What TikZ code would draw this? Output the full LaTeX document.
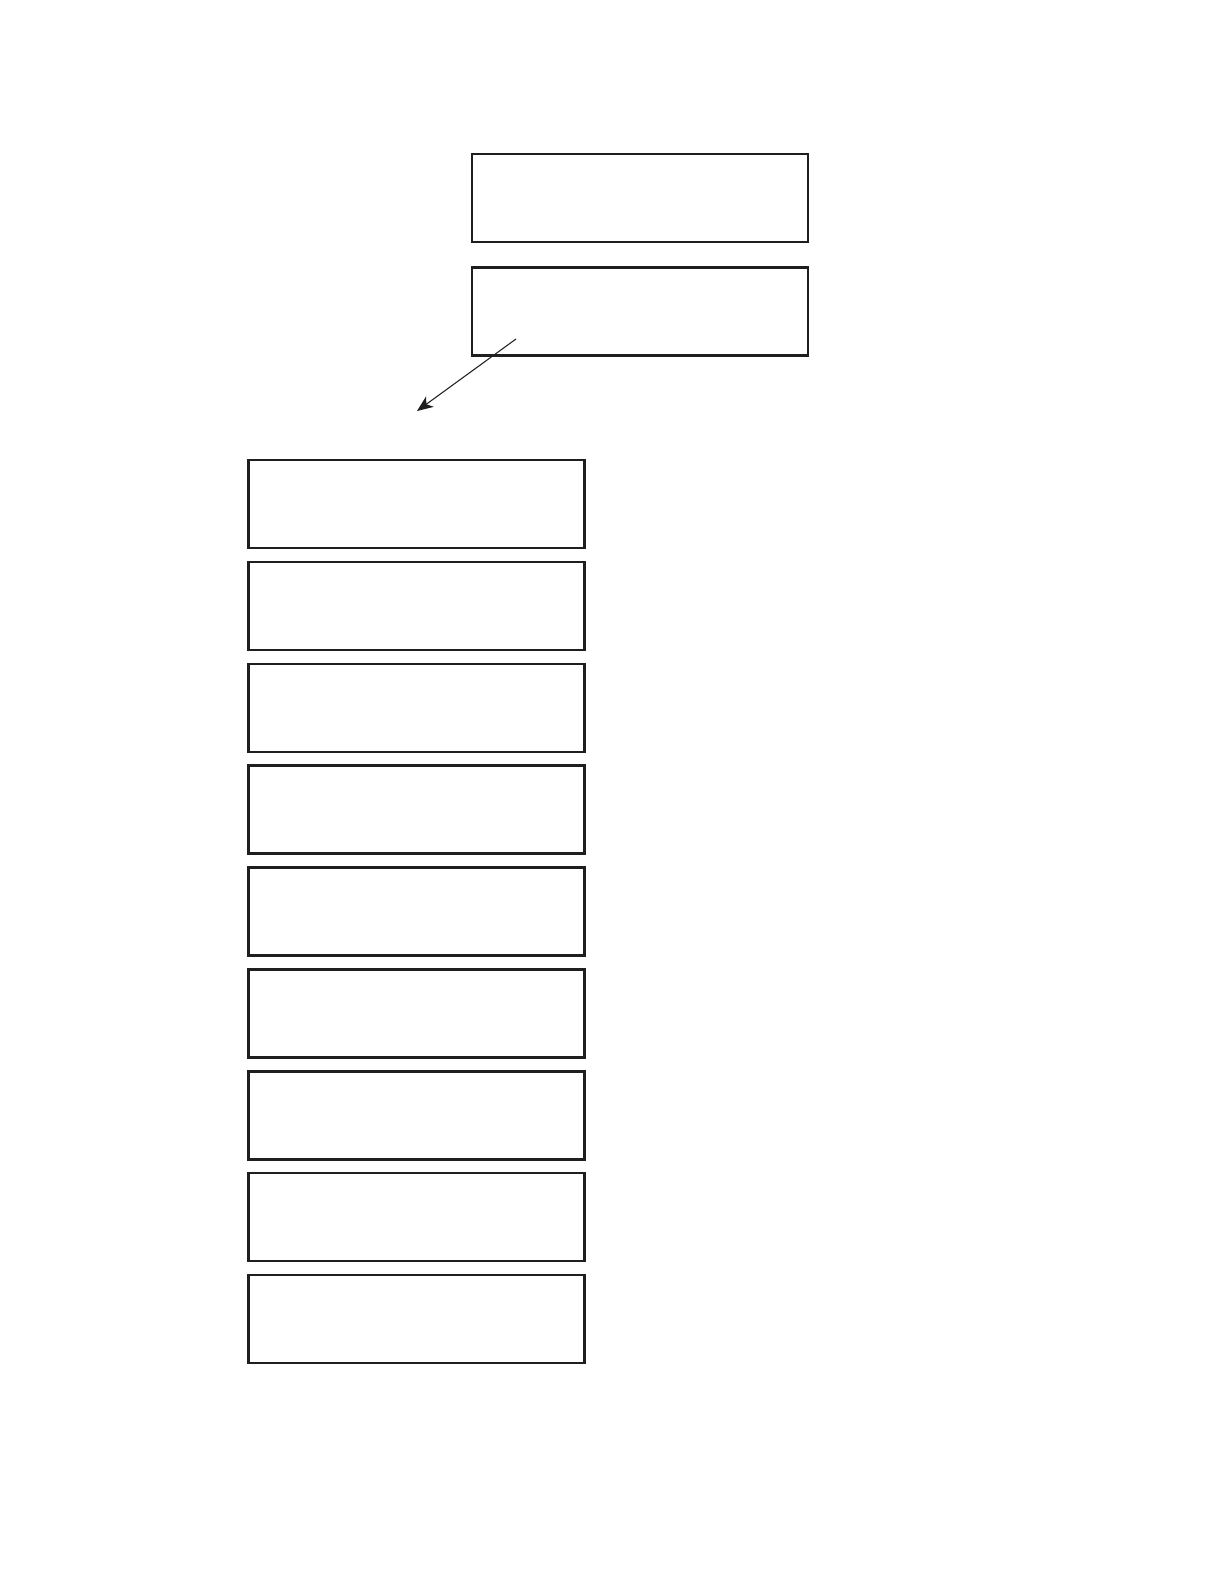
\documentclass[tikz,border=0pt]{standalone}
\usepackage{tikz}
\usetikzlibrary{shapes.geometric, arrows, arrows.meta}

\begin{document}
\begin{tikzpicture}[x=0.02cm, y=-0.02cm, node distance=2.038cm]
\tikzstyle{box} = [rectangle, minimum width=6.72cm, minimum height=1.76cm, inner sep=0pt, draw=black!88, line width=1.4pt]
\tikzstyle{arrow} = [-{Stealth[length=3.2mm, width=2.6mm, inset=0.9mm]}, line width=0.6pt, draw=black!88, fill=black!88]

\useasboundingbox (0,0) rectangle (1224,1584);

\node (top1) [box] at (640,198) {};
\node (top2) [box, below of=top1, yshift=-0.23cm] {};

\node (row1) [box] at (416.3,504) {};
\node (row2) [box, below of=row1] {};
\node (row3) [box, below of=row2] {};
\node (row4) [box, below of=row3] {};
\node (row5) [box, below of=row4] {};
\node (row6) [box, below of=row5] {};
\node (row7) [box, below of=row6] {};
\node (row8) [box, below of=row7] {};
\node (row9) [box, below of=row8] {};

\coordinate (tail) at (516,339);
\coordinate (head) at (417,411);
\draw [arrow] (tail) -- (head);
\end{tikzpicture}
\end{document}
